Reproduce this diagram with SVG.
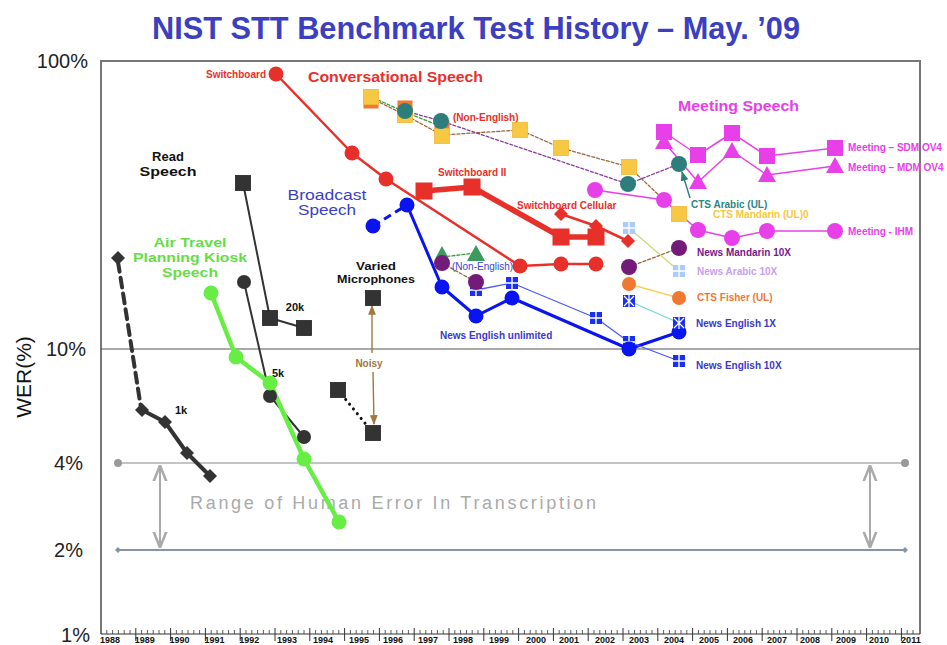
<svg xmlns="http://www.w3.org/2000/svg" xmlns:xlink="http://www.w3.org/1999/xlink" width="947" height="645" viewBox="0 0 947 645">
<style>
text{font-family:"Liberation Sans",Arial,sans-serif}
.b{font-weight:bold}
.lab{font-size:10px;font-weight:bold}
.ax{font-size:20px;fill:#222;text-anchor:end}
.yr{font-size:8.5px;font-weight:bold;fill:#111;text-anchor:middle}
.red{fill:#e8302a}
.blu{fill:#0a14f0}
.mag{fill:#e840e8}
.drk{fill:#333}
.ln{fill:none;stroke-linejoin:round;stroke-linecap:round}
</style>
<defs>
<marker id="ab" viewBox="0 0 10 10" refX="9" refY="5" markerWidth="7" markerHeight="7" orient="auto"><path d="M0,1 L10,5 L0,9 z" fill="#a07840"/></marker>
<marker id="at" viewBox="0 0 10 10" refX="9" refY="5" markerWidth="7" markerHeight="7" orient="auto"><path d="M0,1 L10,5 L0,9 z" fill="#2e7d7d"/></marker>
<marker id="ag" viewBox="0 0 10 10" refX="9" refY="5" markerWidth="8" markerHeight="8" orient="auto-start-reverse"><path d="M0,1 L10,5 L0,9" fill="none" stroke="#aaa" stroke-width="1.6"/></marker>
<g id="grid"><rect x="-6" y="-6" width="12" height="12" fill="#1a30f0"/><path d="M-6,0 H6 M0,-6 V6" stroke="#fff" stroke-width="1.4"/></g>
<g id="lgrid"><rect x="-6" y="-6" width="12" height="12" fill="#a8ccff"/><path d="M-6,0 H6 M0,-6 V6" stroke="#fff" stroke-width="1.4"/></g>
<g id="boxx"><rect x="-6" y="-6" width="12" height="12" fill="#1a30f0"/><path d="M-5,-5 L5,5 M5,-5 L-5,5 M0,-6 V6" stroke="#fff" stroke-width="1.2"/></g>
<rect id="rsq" x="-8.5" y="-8.5" width="17" height="17" fill="#e8302a"/>
<rect id="msq" x="-8" y="-8" width="16" height="16" fill="#e840e8"/>
<path id="mtri" d="M0,-9 L9,7 L-9,7 z" fill="#e840e8"/>
<rect id="ysq" x="-7.5" y="-7.5" width="15" height="15" fill="#f6c843" stroke="#f3b838" stroke-width="0.8"/>
<rect id="osq" x="-7.5" y="-7.5" width="15" height="15" fill="#f07830"/>
<rect id="dsq" x="-7.5" y="-7.5" width="15" height="15" fill="#333" stroke="#222" stroke-width="0.8"/>
<path id="rdia" d="M0,-7 L7,0 L0,7 L-7,0 z" fill="#e8302a"/>
<path id="ddia" d="M0,-7 L7,0 L0,7 L-7,0 z" fill="#333"/>
</defs>
<rect width="947" height="645" fill="#fff"/>

<text x="476" y="39" font-size="32" font-weight="bold" fill="#3b3fc0" text-anchor="middle" textLength="648" lengthAdjust="spacingAndGlyphs">NIST STT Benchmark Test History – May. ’09</text>

<g id="axes">
<path d="M101,634 V61 H920 V634" fill="none" stroke="#777" stroke-width="2"/>
<line x1="101" y1="349" x2="920" y2="349" stroke="#555" stroke-width="1.2"/>
<line x1="101" y1="634" x2="920" y2="634" stroke="#333" stroke-width="1.2"/>
<path id="ticks" stroke="#333" stroke-width="0.8" d="M106.8,630V634M112.6,630V634M118.4,630V634M124.2,630V634M130,630V634M141.6,630V634M147.4,630V634M153.2,630V634M159,630V634M164.8,630V634M176.4,630V634M182.2,630V634M188,630V634M193.8,630V634M199.6,630V634M211.2,630V634M217,630V634M222.8,630V634M228.6,630V634M234.4,630V634M246,630V634M251.8,630V634M257.6,630V634M263.4,630V634M269.2,630V634M280.8,630V634M286.6,630V634M292.4,630V634M298.2,630V634M304,630V634M315.6,630V634M321.4,630V634M327.2,630V634M333,630V634M338.8,630V634M350.4,630V634M356.2,630V634M362,630V634M367.8,630V634M373.6,630V634M385.2,630V634M391,630V634M396.8,630V634M402.6,630V634M408.4,630V634M420,630V634M425.8,630V634M431.6,630V634M437.4,630V634M443.2,630V634M454.8,630V634M460.6,630V634M466.4,630V634M472.2,630V634M478,630V634M489.6,630V634M495.4,630V634M501.2,630V634M507,630V634M512.8,630V634M524.4,630V634M530.2,630V634M536,630V634M541.8,630V634M547.6,630V634M559.2,630V634M565,630V634M570.8,630V634M576.6,630V634M582.4,630V634M594,630V634M599.8,630V634M605.6,630V634M611.4,630V634M617.2,630V634M628.8,630V634M634.6,630V634M640.4,630V634M646.2,630V634M652,630V634M663.6,630V634M669.4,630V634M675.2,630V634M681,630V634M686.8,630V634M698.4,630V634M704.2,630V634M710,630V634M715.8,630V634M721.6,630V634M733.2,630V634M739,630V634M744.8,630V634M750.6,630V634M756.4,630V634M768,630V634M773.8,630V634M779.6,630V634M785.4,630V634M791.2,630V634M802.8,630V634M808.6,630V634M814.4,630V634M820.2,630V634M826,630V634M837.6,630V634M843.4,630V634M849.2,630V634M855,630V634M860.8,630V634M872.4,630V634M878.2,630V634M884,630V634M889.8,630V634M895.6,630V634M907.2,630V634M913,630V634"/>
<path stroke="#333" stroke-width="1" d="M135.8,628V641M170.6,628V641M205.4,628V641M240.2,628V641M275,628V641M309.8,628V641M344.6,628V641M379.4,628V641M414.2,628V641M449,628V641M483.8,628V641M518.6,628V641M553.4,628V641M588.2,628V641M623,628V641M657.8,628V641M692.6,628V641M727.4,628V641M762.2,628V641M797,628V641M831.8,628V641M866.6,628V641M901.4,628V641"/>
<g class="yr">
<text x="110" y="643" textLength="20" lengthAdjust="spacingAndGlyphs">1988</text>
<text x="144.8" y="643" textLength="20" lengthAdjust="spacingAndGlyphs">1989</text>
<text x="179.6" y="643" textLength="20" lengthAdjust="spacingAndGlyphs">1990</text>
<text x="214.4" y="643" textLength="20" lengthAdjust="spacingAndGlyphs">1991</text>
<text x="249.2" y="643" textLength="20" lengthAdjust="spacingAndGlyphs">1992</text>
<text x="287" y="643" textLength="20" lengthAdjust="spacingAndGlyphs">1993</text>
<text x="323" y="643" textLength="20" lengthAdjust="spacingAndGlyphs">1994</text>
<text x="359" y="643" textLength="20" lengthAdjust="spacingAndGlyphs">1995</text>
<text x="393" y="643" textLength="20" lengthAdjust="spacingAndGlyphs">1996</text>
<text x="428" y="643" textLength="20" lengthAdjust="spacingAndGlyphs">1997</text>
<text x="463" y="643" textLength="20" lengthAdjust="spacingAndGlyphs">1998</text>
<text x="499" y="643" textLength="20" lengthAdjust="spacingAndGlyphs">1999</text>
<text x="536" y="643" textLength="20" lengthAdjust="spacingAndGlyphs">2000</text>
<text x="569" y="643" textLength="20" lengthAdjust="spacingAndGlyphs">2001</text>
<text x="605" y="643" textLength="20" lengthAdjust="spacingAndGlyphs">2002</text>
<text x="639" y="643" textLength="20" lengthAdjust="spacingAndGlyphs">2003</text>
<text x="674" y="643" textLength="20" lengthAdjust="spacingAndGlyphs">2004</text>
<text x="709" y="643" textLength="20" lengthAdjust="spacingAndGlyphs">2005</text>
<text x="743" y="643" textLength="20" lengthAdjust="spacingAndGlyphs">2006</text>
<text x="777" y="643" textLength="20" lengthAdjust="spacingAndGlyphs">2007</text>
<text x="810" y="643" textLength="20" lengthAdjust="spacingAndGlyphs">2008</text>
<text x="846" y="643" textLength="20" lengthAdjust="spacingAndGlyphs">2009</text>
<text x="879" y="643" textLength="20" lengthAdjust="spacingAndGlyphs">2010</text>
<text x="911" y="643" textLength="20" lengthAdjust="spacingAndGlyphs">2011</text>
</g>
<text class="ax" x="88" y="68">100%</text>
<text class="ax" x="86" y="356">10%</text>
<text class="ax" x="83" y="470">4%</text>
<text class="ax" x="83" y="557">2%</text>
<text class="ax" x="90" y="642">1%</text>
<text x="0" y="0" font-size="21" fill="#111" text-anchor="middle" transform="translate(31,377) rotate(-90)">WER(%)</text>
</g>

<g id="human-range">
<line x1="118" y1="463" x2="905" y2="463" stroke="#c4c4c4" stroke-width="2"/>
<circle cx="118" cy="463" r="4" fill="#999"/>
<circle cx="905" cy="463" r="4" fill="#999"/>
<line x1="118" y1="550" x2="905" y2="550" stroke="#8594ac" stroke-width="2"/>
<path d="M118,547 L121,550 L118,553 L115,550 z" fill="#8594ac"/>
<path d="M905,547 L908,550 L905,553 L902,550 z" fill="#8594ac"/>
<line x1="160" y1="467" x2="160" y2="546" stroke="#aaa" stroke-width="2" marker-start="url(#ag)" marker-end="url(#ag)"/>
<line x1="870" y1="467" x2="870" y2="546" stroke="#aaa" stroke-width="2" marker-start="url(#ag)" marker-end="url(#ag)"/>
<text x="190" y="509" font-size="18" fill="#aaa" textLength="406" lengthAdjust="spacing">Range of Human Error In Transcription</text>
</g>

<g id="connectors">
<path class="ln" d="M118,262 C125,305 135,370 141,408" stroke="#333" stroke-width="4" stroke-dasharray="10,6"/>
<polyline class="ln" points="142,410 165,422 187,453 210,476" stroke="#333" stroke-width="4"/>
<polyline class="ln" points="243,183 270,318 304,328" stroke="#333" stroke-width="2"/>
<polyline class="ln" points="244,282 270,396 304,437" stroke="#333" stroke-width="2"/>
<polyline class="ln" points="211,293 236,357 270,383 304,459 339,522" stroke="#66ee44" stroke-width="4.5"/>
<line x1="338" y1="390" x2="373" y2="433" stroke="#111" stroke-width="3" stroke-dasharray="0.1,6" stroke-linecap="round"/>
<line x1="372" y1="353" x2="372" y2="306" stroke="#a07840" stroke-width="1.4" marker-end="url(#ab)"/>
<line x1="373" y1="372" x2="374" y2="424" stroke="#a07840" stroke-width="1.4" marker-end="url(#ab)"/>
<polyline class="ln" points="276,74 352,153 386,179 520,266 561,264 596,264" stroke="#e8302a" stroke-width="2.5"/>
<polyline class="ln" points="424,191 472,187 561,237 596,237" stroke="#e8302a" stroke-width="5.5"/>
<polyline class="ln" points="561,214 596,226 628,241" stroke="#e8302a" stroke-width="2.5"/>
<polyline class="ln" points="371,98 405,115 442,135 520,130 561,148 629,167 679,214" stroke="#a0643a" stroke-width="1.3" stroke-dasharray="3,2"/>
<polyline class="ln" points="378,100 405,112 440,126" stroke="#3a9a3a" stroke-width="1.3" stroke-dasharray="3,2"/>
<polyline class="ln" points="405,111 441,121 628,184 679,164" stroke="#8a3aa0" stroke-width="1.3" stroke-dasharray="3,2"/>
<line x1="690" y1="198" x2="682" y2="172" stroke="#2e7d7d" stroke-width="1.4" marker-end="url(#at)"/>
<polyline class="ln" points="442,257 476,253" stroke="#3a9a3a" stroke-width="1.3" stroke-dasharray="3,2"/>
<polyline class="ln" points="442,263 476,282" stroke="#a0643a" stroke-width="1.3" stroke-dasharray="3,2"/>
<polyline class="ln" points="629,267 679,248" stroke="#a0643a" stroke-width="1.3" stroke-dasharray="3,2"/>
<polyline class="ln" points="629,228 679,271" stroke="#c8dc78" stroke-width="1.3"/>
<polyline class="ln" points="629,284 679,298" stroke="#f8d060" stroke-width="1.5"/>
<polyline class="ln" points="629,301 679,323" stroke="#70d8d8" stroke-width="1.3"/>
<line x1="373" y1="226" x2="407" y2="205" stroke="#0a14f0" stroke-width="3" stroke-dasharray="8,5"/>
<polyline class="ln" points="407,205 442,287 476,316 512,298 629,349 679,332" stroke="#0a14f0" stroke-width="3"/>
<polyline class="ln" points="476,290 512,283 596,318 629,342 679,361" stroke="#4a5aff" stroke-width="1.3"/>
<polyline class="ln" points="664,132 698,155 732,133 767,156 835,148" stroke="#e840e8" stroke-width="1.5"/>
<polyline class="ln" points="664,142 698,182 732,151 767,175 835,166" stroke="#e840e8" stroke-width="1.5"/>
<polyline class="ln" points="595,190 664,200 698,230 732,238 767,231 835,231" stroke="#e840e8" stroke-width="1.5"/>
</g>

<g id="read-speech">
<use href="#ddia" x="118" y="258"/><use href="#ddia" x="142" y="410"/><use href="#ddia" x="165" y="422"/><use href="#ddia" x="187" y="453"/><use href="#ddia" x="210" y="476"/>
<use href="#dsq" x="243" y="183"/><use href="#dsq" x="270" y="318"/><use href="#dsq" x="304" y="328"/>
<g class="drk"><circle cx="244" cy="282" r="7"/><circle cx="270" cy="396" r="7"/><circle cx="304" cy="437" r="7"/></g>
<text class="b" x="168" y="161" font-size="13" fill="#111" text-anchor="middle">Read</text>
<text class="b" x="168" y="176" font-size="13" fill="#111" text-anchor="middle" textLength="57" lengthAdjust="spacingAndGlyphs">Speech</text>
<text class="b" x="295" y="311" font-size="11" fill="#111" text-anchor="middle">20k</text>
<text class="b" x="278" y="377" font-size="11" fill="#111" text-anchor="middle">5k</text>
<text class="b" x="181" y="414" font-size="11" fill="#111" text-anchor="middle">1k</text>
</g>

<g id="air-travel">
<g fill="#66ee44"><circle cx="211" cy="293" r="7.5"/><circle cx="236" cy="357" r="7.5"/><circle cx="270" cy="383" r="7.5"/><circle cx="304" cy="459" r="7.5"/><circle cx="339" cy="522" r="7.5"/></g>
<g class="b" font-size="12.5" fill="#66dd44" text-anchor="middle">
<text x="190" y="247" textLength="73" lengthAdjust="spacingAndGlyphs">Air Travel</text>
<text x="190" y="262" textLength="114" lengthAdjust="spacingAndGlyphs">Planning Kiosk</text>
<text x="190" y="277" textLength="56" lengthAdjust="spacingAndGlyphs">Speech</text>
</g>
</g>

<g id="varied-mic">
<use href="#dsq" x="373" y="298"/><use href="#dsq" x="338" y="390"/><use href="#dsq" x="373" y="433"/>
<text class="b" x="376" y="270" font-size="11" fill="#111" text-anchor="middle" textLength="40" lengthAdjust="spacingAndGlyphs">Varied</text>
<text class="b" x="376" y="283" font-size="11" fill="#111" text-anchor="middle" textLength="78" lengthAdjust="spacingAndGlyphs">Microphones</text>
<text class="lab" x="369" y="367" fill="#a07840" text-anchor="middle" font-size="11">Noisy</text>
</g>

<g id="conversational">
<g class="red"><circle cx="276" cy="74" r="7.5"/><circle cx="352" cy="153" r="7.5"/><circle cx="386" cy="179" r="7.5"/><circle cx="520" cy="266" r="7.5"/><circle cx="561" cy="264" r="7.5"/><circle cx="596" cy="264" r="7.5"/></g>
<use href="#rsq" x="424" y="191"/><use href="#rsq" x="472" y="187"/><use href="#rsq" x="561" y="237"/><use href="#rsq" x="596" y="237"/>
<use href="#rdia" x="561" y="214"/><use href="#rdia" x="596" y="226"/><use href="#rdia" x="628" y="241"/>
<text class="lab red" x="266" y="78" text-anchor="end">Switchboard</text>
<text class="b red" x="308" y="82" font-size="15" textLength="175" lengthAdjust="spacingAndGlyphs">Conversational Speech</text>
<text class="lab red" x="438" y="176">Switchboard II</text>
<text class="lab red" x="517" y="209">Switchboard Cellular</text>
<text class="lab red" x="453" y="121">(Non-English)</text>
</g>

<g id="cts-non-english">
<use href="#osq" x="371" y="101"/><use href="#osq" x="405" y="108"/><use href="#osq" x="442" y="128"/>
<use href="#ysq" x="371" y="97"/><use href="#ysq" x="405" y="115"/><use href="#ysq" x="442" y="136"/>
<use href="#ysq" x="520" y="130"/><use href="#ysq" x="561" y="148"/><use href="#ysq" x="629" y="167"/><use href="#ysq" x="679" y="214"/>
<g fill="#2e7d7d"><circle cx="405" cy="111" r="8"/><circle cx="441" cy="121" r="8"/><circle cx="628" cy="184" r="8"/><circle cx="679" cy="164" r="8"/></g>
<text class="lab" x="691" y="208" fill="#2e8585">CTS Arabic (UL)</text>
<text class="lab" x="713" y="218" fill="#f5c842">CTS Mandarin  (UL)0</text>
</g>

<g id="news-other">
<path d="M442,246 L448,257 L436,257 z" fill="#3c9a5c"/>
<path d="M476,245 L485,261 L467,261 z" fill="#3c9a5c"/>
<use href="#grid" x="476" y="290"/>
<g fill="#741a78"><circle cx="442" cy="263" r="8"/><circle cx="476" cy="282" r="8"/><circle cx="629" cy="267" r="8"/><circle cx="679" cy="248" r="8"/></g>
<text x="452" y="270" font-size="10" fill="#4444cc">(Non-English)</text>
<use href="#lgrid" x="629" y="228"/><use href="#lgrid" x="679" y="271"/>
<g fill="#f07830"><circle cx="629" cy="284" r="7"/><circle cx="679" cy="298" r="7"/></g>
<text class="lab" x="697" y="256" fill="#741a88">News Mandarin 10X</text>
<text class="lab" x="697" y="275" fill="#c8a0f0">News Arabic 10X</text>
<text class="lab" x="697" y="301" fill="#f07830">CTS Fisher (UL)</text>
</g>

<g id="broadcast">
<use href="#grid" x="512" y="283"/><use href="#grid" x="596" y="318"/><use href="#grid" x="629" y="342"/><use href="#grid" x="679" y="361"/>
<g class="blu"><circle cx="373" cy="226" r="7.5"/><circle cx="407" cy="205" r="7.5"/><circle cx="442" cy="287" r="7.5"/><circle cx="476" cy="316" r="7.5"/><circle cx="512" cy="298" r="7.5"/><circle cx="629" cy="349" r="7.5"/><circle cx="679" cy="332" r="7.5"/></g>
<use href="#boxx" x="629" y="301"/><use href="#boxx" x="679" y="323"/>
<text x="327" y="200" font-size="14" fill="#3b3fc8" text-anchor="middle" textLength="79" lengthAdjust="spacingAndGlyphs">Broadcast</text>
<text x="327" y="215" font-size="14" fill="#3b3fc8" text-anchor="middle" textLength="58" lengthAdjust="spacingAndGlyphs">Speech</text>
<text class="lab" x="440" y="339" font-size="11" fill="#3a3ac8">News English unlimited</text>
<text class="lab" x="696" y="327" font-size="11" fill="#3a3ac8">News English  1X</text>
<text class="lab" x="696" y="369" font-size="11" fill="#3a3ac8">News English  10X</text>
</g>

<g id="meeting">
<use href="#mtri" x="664" y="142"/><use href="#msq" x="664" y="132"/>
<use href="#msq" x="698" y="155"/><use href="#msq" x="732" y="133"/><use href="#msq" x="767" y="156"/><use href="#msq" x="835" y="148"/>
<use href="#mtri" x="698" y="182"/><use href="#mtri" x="732" y="151"/><use href="#mtri" x="767" y="175"/><use href="#mtri" x="835" y="166"/>
<g class="mag"><circle cx="595" cy="190" r="8"/><circle cx="664" cy="200" r="8"/><circle cx="698" cy="230" r="8"/><circle cx="732" cy="238" r="8"/><circle cx="767" cy="231" r="8"/><circle cx="835" cy="231" r="8"/></g>
<text class="b mag" x="678" y="111" font-size="15" textLength="121" lengthAdjust="spacingAndGlyphs">Meeting Speech</text>
<text class="lab mag" x="848" y="151">Meeting – SDM OV4</text>
<text class="lab mag" x="848" y="171">Meeting – MDM OV4</text>
<text class="lab mag" x="848" y="235">Meeting - IHM</text>
</g>
</svg>
